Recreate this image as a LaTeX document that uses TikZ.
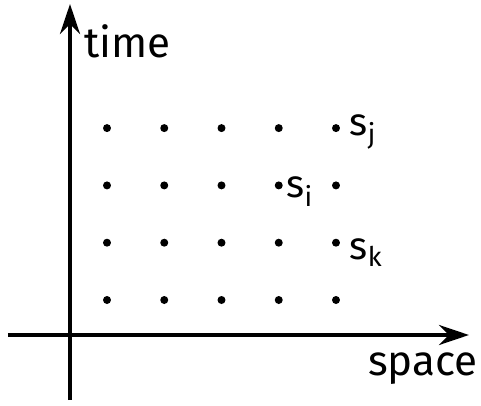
\documentclass[tikz,border=0pt]{standalone}
\usepackage{tikz}
\usepackage{fontspec}
\setmainfont{Fira Sans}
\usetikzlibrary{arrows.meta, positioning}

\begin{document}
\begin{tikzpicture}[
  x=0.02cm, y=-0.02cm,
  font=\fontsize{24}{28}\selectfont,
  axis/.style={line width=2.4pt, -{Stealth[length=0.6cm, width=0.4cm]}},
  pt/.style={circle, fill=black, inner sep=0pt, minimum size=0.16cm},
  lbl/.style={inner sep=0pt, font=\fontsize{22}{26}\selectfont}
]
\useasboundingbox (0,0) rectangle (481,406);
% axes
\coordinate (tstart) at (70,400);
\coordinate (tend) at (70,4);
\coordinate (sstart) at (8,335);
\coordinate (send) at (469,335);
\draw[axis] (tstart) -- (tend);
\draw[axis] (sstart) -- (send);
\node[anchor=north west, inner sep=0pt] (time) at (84,24) {time};
\node[anchor=north east, inner sep=0pt] (space) at (478,352) {space};
% events
\foreach \c in {1,...,5}
  \foreach \r in {1,...,4}
    \node[pt] (p\c\r) at ({107+57.25*(\c-1)},{300-57.3*(\r-1)}) {};
\node[lbl, right=0.18cm of p54, yshift=-0.08cm] (sj) {s\textsubscript{j}};
\node[lbl, right=0.06cm of p43, yshift=-0.12cm] (si) {s\textsubscript{i}};
\node[lbl, right=0.18cm of p52, yshift=-0.2cm] (sk) {s\textsubscript{k}};
\end{tikzpicture}
\end{document}
